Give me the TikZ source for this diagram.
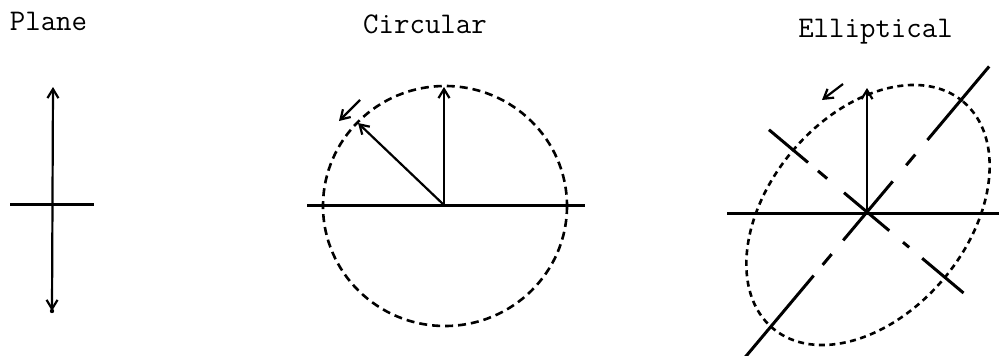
\documentclass[tikz,border=0pt]{standalone}
\usetikzlibrary{arrows.meta}
\begin{document}
\begin{tikzpicture}[x=1pt,y=-1pt,
  axisline/.style={line width=3pt},
  vecline/.style={line width=2.2pt},
  barb/.style={-{Straight Barb[length=9pt,width=11pt]}},
  dbarb/.style={{Straight Barb[length=9pt,width=11pt]}-{Straight Barb[length=9pt,width=11pt]}},
  circdash/.style={line width=2.6pt,dash pattern=on 8pt off 5pt},
  elldash/.style={line width=2.6pt,dash pattern=on 6pt off 4.5pt},
  title/.style={font=\fontsize{30}{32}\selectfont\ttfamily,inner sep=0pt,anchor=base}]
\useasboundingbox (0,0) rectangle (999,356);

% titles
\node[title] (tplane) at (48.5,30) {Plane};
\node[title] (tcirc) at (425,33) {Circular};
\node[title] (tell) at (875.5,37) {Elliptical};

% ---------- Plane ----------
\coordinate (pt) at (53,87);
\coordinate (pb) at (52,311);
\coordinate (pl) at (10,204);
\coordinate (pr) at (94,204);
\draw[axisline] (pl) -- (pr);
\draw[vecline,dbarb] (pb) -- (pt);
\fill (52,311) circle [radius=2.2];

% ---------- Circular ----------
\coordinate (cc) at (444,205);
\coordinate (cl) at (307,205);
\coordinate (cr) at (585,205);
\coordinate (cup) at (444,87);
\coordinate (cdg) at (358,123);
\coordinate (cas) at (360,100);
\coordinate (cae) at (339,121);
\draw[circdash] (445,206) ellipse [x radius=122, y radius=120];
\draw[axisline] (cl) -- (cr);
\draw[vecline,barb] (cc) -- (cup);
\draw[vecline,barb] (cc) -- (cdg);
\draw[vecline,barb] (cas) -- (cae);

% ---------- Elliptical ----------
\coordinate (ec) at (867,213);
\coordinate (el) at (727,213);
\coordinate (er) at (999,213);
\coordinate (eup) at (867,88);
\coordinate (eas) at (843,84);
\coordinate (eae) at (822,100);
\draw[elldash,rotate around={50:(868,215)}] (868,215) ellipse [x radius=148, y radius=99];
\draw[axisline] (el) -- (er);
\draw[vecline,barb] (ec) -- (eup);
\draw[vecline,barb] (eas) -- (eae);
\begin{scope}[shift={(867,212)},rotate=50]
  \draw[axisline] (94,0) -- (190,0);
  \draw[axisline] (61,0) -- (75,0);
  \draw[axisline] (-37,0) -- (40,0);
  \draw[axisline] (-55,0) -- (-69,0);
  \draw[axisline] (-83,0) -- (-190,0);
\end{scope}
\begin{scope}[shift={(867,212)},rotate=-40]
  \draw[axisline] (-128,0) -- (-77,0);
  \draw[axisline] (-64,0) -- (-52,0);
  \draw[axisline] (-30,0) -- (29,0);
  \draw[axisline] (47,0) -- (55,0);
  \draw[axisline] (72,0) -- (126,0);
\end{scope}
\end{tikzpicture}
\end{document}
